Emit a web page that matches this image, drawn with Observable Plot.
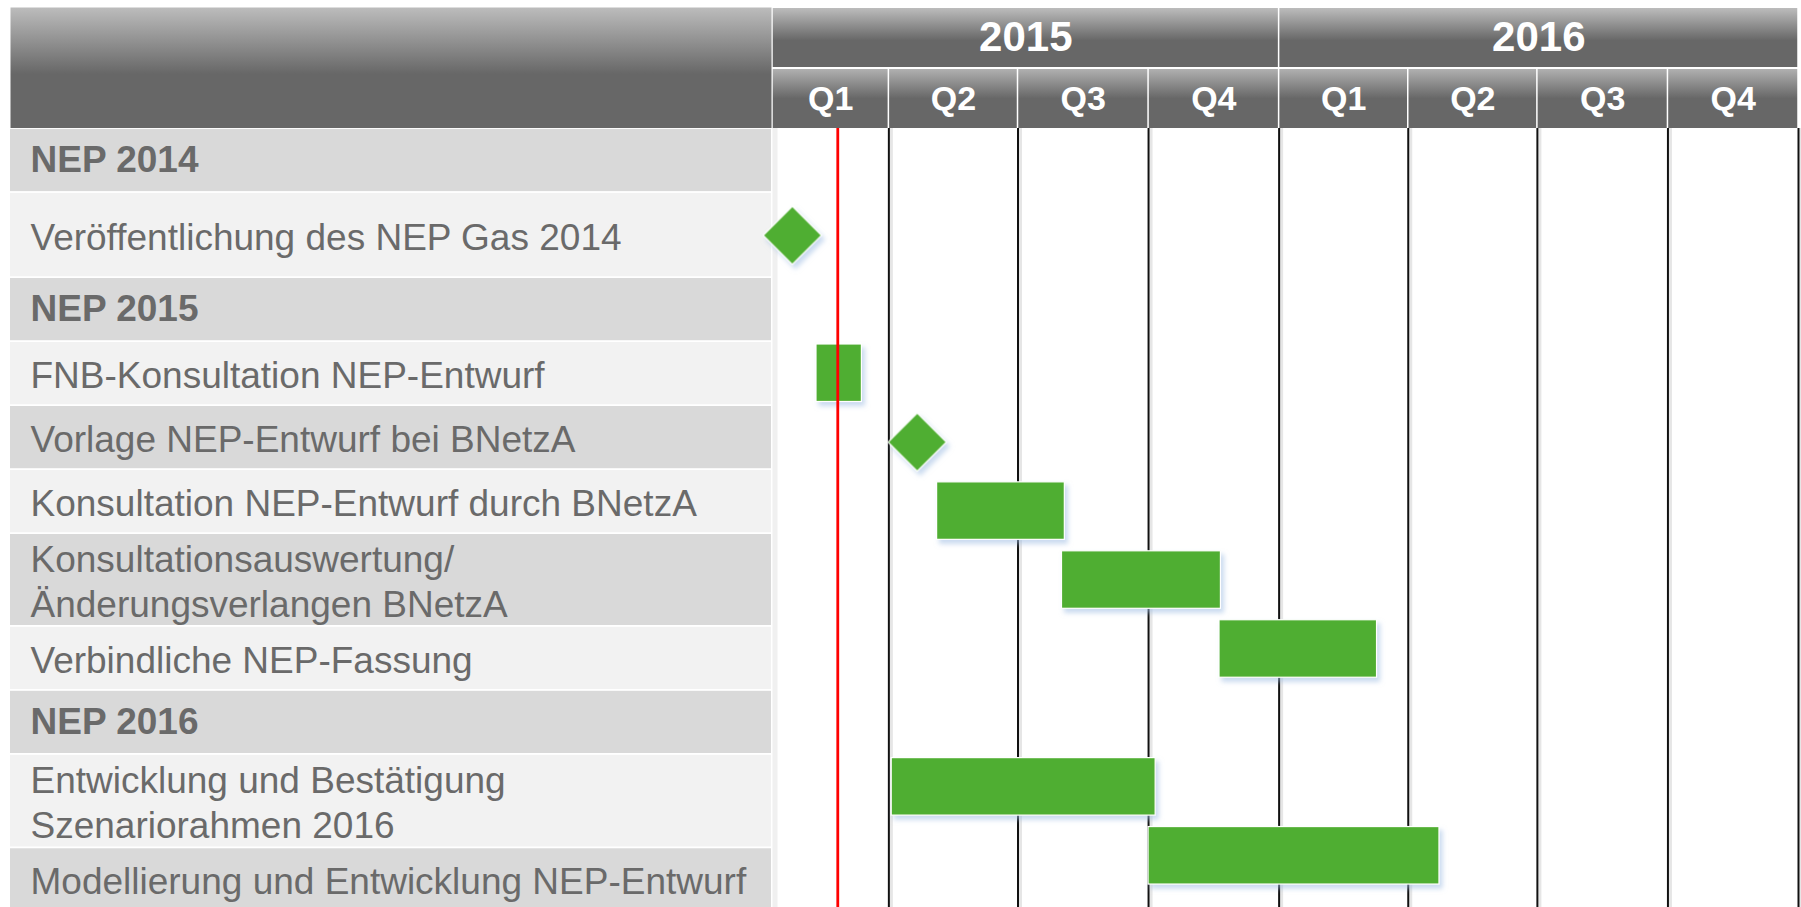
<!DOCTYPE html>
<html>
<head>
<meta charset="utf-8">
<script src="https://cdn.jsdelivr.net/npm/d3@7"></script>
<script src="https://cdn.jsdelivr.net/npm/@observablehq/plot@0.6"></script>
<style>
  html, body { margin: 0; padding: 0; background: #ffffff; overflow: hidden; }
  #chart { position: relative; width: 1801px; height: 907px; font-family: "Liberation Sans", Arial, sans-serif; }
  #chart > div { position: absolute; }
</style>
</head>
<body>
<div id="chart">
  <div id="lh" style="left:0;top:0;width:772px;height:128px"></div>
  <div id="rh" style="left:772px;top:0;width:1029px;height:128px"></div>
  <div id="lb" style="left:0;top:128px;width:772px;height:779px"></div>
  <div id="rb" style="left:772px;top:128px;width:1029px;height:779px"></div>
</div>
<script>
// ---------- data ----------
const years = ["2015", "2016"];
const yearStarts = ["2015-01-01", "2016-01-01"];
const yearEnds = ["2016-01-01", "2017-01-01"];

const quarterLabels = ["Q1", "Q2", "Q3", "Q4", "Q1", "Q2", "Q3", "Q4"];
const quarterStarts = ["2015-01-01", "2015-04-01", "2015-07-01", "2015-10-01",
                       "2016-01-01", "2016-04-01", "2016-07-01", "2016-10-01"];
const quarterEnds = ["2015-04-01", "2015-07-01", "2015-10-01", "2016-01-01",
                     "2016-04-01", "2016-07-01", "2016-10-01", "2017-01-01"];

const timelineStart = "2015-01-09";   // first visible day of the timeline
const timelineEnd = "2017-01-01";
const today = "2015-02-24";           // red "heute" line

const rowLabels = [
  "NEP 2014",
  "Veröffentlichung des NEP Gas 2014",
  "NEP 2015",
  "FNB-Konsultation NEP-Entwurf",
  "Vorlage NEP-Entwurf bei BNetzA",
  "Konsultation NEP-Entwurf durch BNetzA",
  "Konsultationsauswertung/\nÄnderungsverlangen BNetzA",
  "Verbindliche NEP-Fassung",
  "NEP 2016",
  "Entwicklung und Bestätigung\nSzenariorahmen 2016",
  "Modellierung und Entwicklung NEP-Entwurf"
];
const rowIsGroup = [true, false, true, false, false, false, false, false, true, false, false];

const taskNames = [
  "FNB-Konsultation NEP-Entwurf",
  "Konsultation NEP-Entwurf durch BNetzA",
  "Konsultationsauswertung/\nÄnderungsverlangen BNetzA",
  "Verbindliche NEP-Fassung",
  "Entwicklung und Bestätigung\nSzenariorahmen 2016",
  "Modellierung und Entwicklung NEP-Entwurf"
];
const taskStarts = ["2015-02-09", "2015-05-05", "2015-08-01", "2015-11-20", "2015-04-03", "2015-10-01"];
const taskEnds   = ["2015-03-13", "2015-08-03", "2015-11-21", "2016-03-10", "2015-10-06", "2016-04-23"];

const milestoneNames = ["Veröffentlichung des NEP Gas 2014", "Vorlage NEP-Entwurf bei BNetzA"];
const milestoneDates = ["2015-01-23", "2015-04-21"];

// ---------- layout (relative row heights of the label table) ----------
const rowWeights = [1, 1.33, 1, 1, 1, 1, 1.45, 1, 1, 1.46, 1];

// ---------- derived tables ----------
const tStart = new Date(timelineStart), tEnd = new Date(timelineEnd);
const clampDate = d => new Date(Math.max(+d, +tStart));
const midDate = (a, b) => new Date((+clampDate(a) + +b) / 2);

const yearCells = years.map((label, i) => {
  const s = new Date(yearStarts[i]), e = new Date(yearEnds[i]);
  return {label, start: s, end: e, mid: midDate(s, e), band: "Jahr"};
});
const quarterCells = quarterLabels.map((label, i) => {
  const s = new Date(quarterStarts[i]), e = new Date(quarterEnds[i]);
  return {label, start: s, end: e, mid: midDate(s, e), band: "Quartal"};
});

let acc = 0;
const rows = rowLabels.map((label, i) => {
  const top = acc; acc += rowWeights[i];
  return {label, i, top, bottom: acc, group: rowIsGroup[i], textY: (top + acc) / 2};
});

const tasks = taskNames.map((name, i) => ({
  name, lane: rowLabels.indexOf(name),
  start: new Date(taskStarts[i]), end: new Date(taskEnds[i])
}));
const milestones = milestoneNames.map((name, i) => ({
  name, lane: rowLabels.indexOf(name), date: new Date(milestoneDates[i])
}));
const gridDates = quarterStarts.slice(1).concat([timelineEnd]).map(d => new Date(d));

const green = "#50ae32";
const textGrey = "#6a6a6a";
const font = "'Liberation Sans', Arial, sans-serif";

// shared SVG definitions (gradients, shadow), inserted into each chart svg
function addDefs(svg, idp) {
  const defs = d3.select(svg).insert("defs", ":first-child");
  const g1 = defs.append("linearGradient").attr("id", idp + "hdrGrad").attr("x1", 0).attr("y1", 0).attr("x2", 0).attr("y2", 1);
  g1.append("stop").attr("offset", 0).attr("stop-color", "#bcbcbc");
  g1.append("stop").attr("offset", 0.55).attr("stop-color", "#676767");
  g1.append("stop").attr("offset", 1).attr("stop-color", "#676767");
  const g2 = defs.append("linearGradient").attr("id", idp + "qGrad").attr("x1", 0).attr("y1", 0).attr("x2", 0).attr("y2", 1);
  g2.append("stop").attr("offset", 0).attr("stop-color", "#b0b0b0");
  g2.append("stop").attr("offset", 0.5).attr("stop-color", "#676767");
  g2.append("stop").attr("offset", 1).attr("stop-color", "#676767");
  const f = defs.append("filter").attr("id", idp + "shadow")
    .attr("x", "-30%").attr("y", "-30%").attr("width", "170%").attr("height", "170%");
  f.append("feDropShadow").attr("dx", 3).attr("dy", 4).attr("stdDeviation", 2.5)
    .attr("flood-color", "#9dbbe2").attr("flood-opacity", 0.55);
}

// ---------- left header block ----------
const lh = Plot.plot({
  width: 772, height: 128,
  marginTop: 7, marginLeft: 10, marginRight: 1, marginBottom: 0,
  style: {background: "transparent"},
  marks: [Plot.frame({fill: "url(#lh-hdrGrad)", stroke: "none"})]
});
addDefs(lh, "lh-");
document.getElementById("lh").appendChild(lh);

// ---------- right header (years / quarters) ----------
const rh = Plot.plot({
  width: 1029, height: 128,
  marginTop: 7, marginLeft: 0, marginRight: 3, marginBottom: 0,
  style: {background: "transparent", fontFamily: font},
  x: {type: "utc", domain: [tStart, tEnd], clamp: true, axis: null},
  y: {type: "band", domain: ["Jahr", "Quartal"], paddingInner: 0.04, paddingOuter: 0, axis: null},
  marks: [
    Plot.barX(yearCells, {x1: "start", x2: "end", y: "band", fill: "url(#rh-hdrGrad)", insetLeft: 0.75, insetRight: 0.75}),
    Plot.barX(quarterCells, {x1: "start", x2: "end", y: "band", fill: "url(#rh-qGrad)", insetLeft: 0.75, insetRight: 0.75}),
    Plot.text(yearCells, {x: "mid", y: "band", text: "label", fill: "white", fontSize: 42, fontWeight: "bold"}),
    Plot.text(quarterCells, {x: "mid", y: "band", text: "label", fill: "white", fontSize: 34, fontWeight: "bold"})
  ]
});
addDefs(rh, "rh-");
document.getElementById("rh").appendChild(rh);

// ---------- left body (label table) ----------
const lb = Plot.plot({
  width: 772, height: 779,
  marginTop: 0, marginLeft: 10, marginRight: 1, marginBottom: 0,
  style: {background: "transparent", fontFamily: font},
  y: {domain: [0, 779 / 64], reverse: true, axis: null},
  marks: [
    Plot.rect(rows.filter(r => r.i % 2 === 0), {y1: "top", y2: "bottom", fill: "#d9d9d9", insetTop: 0.9, insetBottom: 0.9}),
    Plot.rect(rows.filter(r => r.i % 2 === 1), {y1: "top", y2: "bottom", fill: "#f2f2f2", insetTop: 0.9, insetBottom: 0.9}),
    Plot.text(rows.filter(r => r.group), {y: "textY", text: "label", frameAnchor: "left", textAnchor: "start", dx: 20,
      fontSize: 37, fontWeight: "bold", fill: textGrey}),
    Plot.text(rows.filter(r => !r.group), {y: "textY", text: "label", frameAnchor: "left", textAnchor: "start", dx: 20,
      fontSize: 37, lineHeight: 1.22, fill: textGrey})
  ]
});
document.getElementById("lb").appendChild(lb);

// ---------- right body (Gantt) ----------
const rb = Plot.plot({
  width: 1029, height: 779,
  marginTop: 0, marginLeft: 0, marginRight: 3, marginBottom: 0,
  style: {background: "transparent", overflow: "visible"},
  x: {type: "utc", domain: [tStart, tEnd], axis: null},
  y: {domain: [-0.55, 10.75], reverse: true, axis: null},
  marks: [
    Plot.ruleX([tStart], {stroke: "#f0f0f0", strokeWidth: 5, dx: 2.5}),
    Plot.ruleX(gridDates, {stroke: "#e6e6e6", strokeWidth: 3, dx: 2.5}),
    Plot.ruleX(gridDates, {stroke: "#111111", strokeWidth: 2}),
    Plot.rect(tasks, {x1: "start", x2: "end", y1: d => d.lane - 0.417, y2: d => d.lane + 0.417,
      fill: green, stroke: "#ffffff", strokeWidth: 1.2, ariaLabel: "tasks"}),
    Plot.dot(milestones, {x: "date", y: "lane", symbol: "diamond2", r: 26.2,
      fill: green, stroke: "#ffffff", strokeWidth: 1.2, ariaLabel: "milestones"}),
    Plot.ruleX([new Date(today)], {stroke: "#ff0000", strokeWidth: 2.8})
  ]
});
addDefs(rb, "rb-");
document.getElementById("rb").appendChild(rb);
// soft drop shadow under bars and milestones, as in the original
const markGroups = rb.querySelectorAll("g[aria-label]");
markGroups.forEach(g => {
  const lab = g.getAttribute("aria-label");
  if (lab === "tasks" || lab === "milestones" || lab === "rect" || lab === "dot") g.setAttribute("filter", "url(#rb-shadow)");
});
</script>
</body>
</html>
